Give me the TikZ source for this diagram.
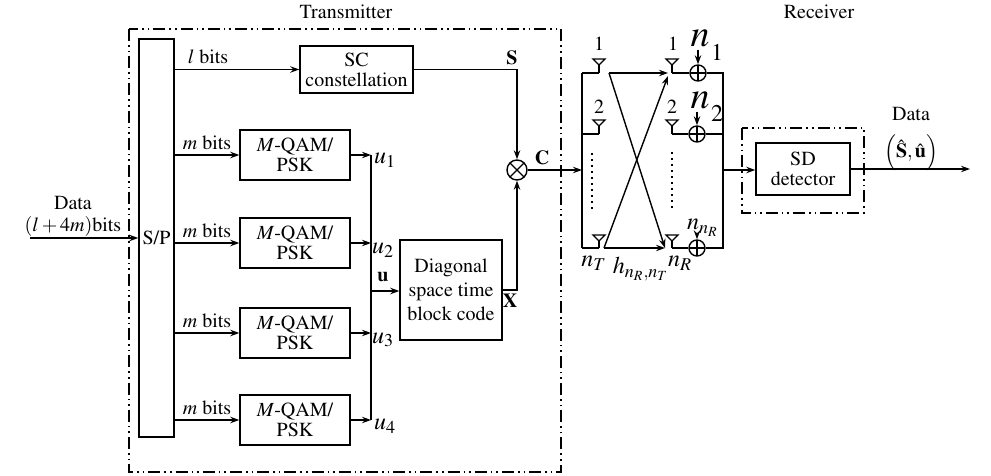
\documentclass[tikz,border=0pt]{standalone}
\usepackage[T1]{fontenc}
\usepackage{mathptmx}
\usetikzlibrary{arrows.meta}
\tikzset{
  blk/.style={draw, align=center, inner sep=1pt, font=\normalsize},
  dd/.style={dash pattern=on 6pt off 2pt on 0.8pt off 2pt on 0.8pt off 2pt, line width=0.7pt},
  lbl/.style={inner sep=0pt},
  arr/.style={-{Stealth[length=4.5pt,width=3.2pt]}},
  sumc/.style={draw, circle, minimum size=8pt, inner sep=0pt,
    path picture={\draw[line width=0.6pt] (path picture bounding box.north) -- (path picture bounding box.south)
      (path picture bounding box.west) -- (path picture bounding box.east);}},
  mulc/.style={draw, circle, minimum size=10pt, inner sep=0pt,
    path picture={\draw[line width=0.6pt] (path picture bounding box.north west) -- (path picture bounding box.south east)
      (path picture bounding box.south west) -- (path picture bounding box.north east);}}
}
\newcommand\antsym[3]{%
  \draw (#1-6,#2) -- (#1+6,#2) -- (#1,#2+6) -- cycle;
  \draw (#1,#2+6) -- (#1,#3);}
\begin{document}
\begin{tikzpicture}[x=0.5pt,y=-0.5pt,line width=0.7pt]
\useasboundingbox (0,0) rectangle (991,476);

% Transmitter box
\draw[dd] (129,29) rectangle (561,472);
\node[lbl] (txl) at (346,12) {Transmitter};
% Receiver box
\draw[dd] (742,128) rectangle (864,213);
\node[lbl] (rxl) at (819,12) {Receiver};

% blocks
\node[blk, minimum width=17.5pt, minimum height=199pt] (sp) at (156.5,238) {S/P};
\node[blk, minimum width=56.5pt, minimum height=23.5pt] (sc) at (356.5,69.5) {SC\\[-2pt]constellation};
\node[blk, minimum width=55pt, minimum height=25pt] (q1) at (295,155) {$M$-QAM/\\[-2pt]PSK};
\node[blk, minimum width=55pt, minimum height=25pt] (q2) at (295,243) {$M$-QAM/\\[-2pt]PSK};
\node[blk, minimum width=55pt, minimum height=25pt] (q3) at (295,333) {$M$-QAM/\\[-2pt]PSK};
\node[blk, minimum width=55pt, minimum height=25pt] (q4) at (295,420) {$M$-QAM/\\[-2pt]PSK};
\node[blk, minimum width=51pt, minimum height=50pt] (dst) at (451,290) {Diagonal\\[0pt]space time\\[0pt]block code};
\node[mulc] (mul) at (517,170) {};
\node[blk, minimum width=47pt, minimum height=26pt] (sd) at (803,169) {SD\\[-2pt]detector};

% input
\coordinate (din) at (30,238);
\draw[arr] (din) -- (sp.west |- din);
\node[lbl] (dl1) at (73,203) {Data};
\node[lbl] (dl2) at (73,226) {$(l+4m)$bits};

% S/P outputs
\draw[arr] (sp.east |- sc) -- (sc.west);
\draw[arr] (sp.east |- q1) -- (q1.west);
\draw[arr] (sp.east |- q2) -- (q2.west);
\draw[arr] (sp.east |- q3) -- (q3.west);
\draw[arr] (sp.east |- q4) -- (q4.west);
\node[lbl] (lb) at (208,57) {$l$ bits};
\node[lbl] (mb1) at (207,143) {$m$ bits};
\node[lbl] (mb2) at (207,231) {$m$ bits};
\node[lbl] (mb3) at (207,321) {$m$ bits};
\node[lbl] (mb4) at (207,408) {$m$ bits};

% bus
\coordinate (bt) at (371,155);
\coordinate (bb) at (371,420);
\draw[arr] (q1.east) -- (bt);
\draw[arr] (q2.east) -- (371,243);
\draw[arr] (q3.east) -- (371,333);
\draw[arr] (q4.east) -- (bb);
\draw (bt) -- (bb);
\draw[arr] (371,291) -- (dst.west |- 0,291);
\node[lbl] (u1) at (385,160) {\large $u_1$};
\node[lbl] (u2) at (383,250) {\large $u_2$};
\node[lbl] (u3) at (383,340) {\large $u_3$};
\node[lbl] (u4) at (385,426) {\large $u_4$};
\node[lbl] (ub) at (383,277) {$\mathbf{u}$};

% S, X, C
\coordinate (sc2) at (517,69.5);
\draw[arr] (sc.east) -- (sc2) -- (mul.north);
\coordinate (xc) at (517,290);
\draw[arr] (dst.east |- xc) -- (xc) -- (mul.south);
\node[lbl] (sl) at (512,58) {$\mathbf{S}$};
\node[lbl] (xl) at (510,301) {$\mathbf{X}$};
\node[lbl] (cl) at (542,158) {$\mathbf{C}$};
\coordinate (tx) at (582,170);
\draw[arr] (mul.east) -- (tx);

% transmit antennas
\draw (582,73) -- (582,248);
\draw (582,73) -- (599,73);
\draw (582,134) -- (599,134);
\draw (582,248) -- (599,248);
\antsym{599}{59}{73}
\antsym{599}{120}{134}
\antsym{599}{235}{248}
\draw[dotted, line width=1pt] (592,153) -- (592,212);
\node[lbl] (t1) at (599,44) {1};
\node[lbl] (t2) at (599,107) {2};
\node[lbl] (tn) at (594,263) {\large $n_T$};

% receive antennas
\antsym{672}{59}{73}
\antsym{672}{120}{134}
\antsym{672}{235}{248}
\draw[dotted, line width=1pt] (672,152) -- (672,210);
\node[lbl] (r1) at (673,44) {1};
\node[lbl] (r2) at (672,107) {2};
\node[lbl] (rn) at (680,263) {\large $n_R$};

\node[sumc] (a1) at (698,73) {};
\node[sumc] (a2) at (697,134) {};
\node[sumc] (a3) at (697,248) {};
\draw (672,73) -- (a1.west);
\draw (672,134) -- (a2.west);
\draw (672,248) -- (a3.west);
\coordinate (rt) at (723,73);
\coordinate (rb) at (723,248);
\draw (a1.east) -- (rt) -- (rb) -- (a3.east);
\draw (a2.east) -- (723,134);

% noise
\node[lbl] (nn1) at (700,38) {\fontsize{19}{19}\selectfont $n$};
\node[lbl] (ns1) at (717,52) {\large 1};
\node[lbl] (nn2) at (700,100) {\fontsize{19}{19}\selectfont $n$};
\node[lbl] (ns2) at (717,113) {\large 2};
\node[lbl] (nnr) at (703,228) {\large $n_{n_R}$};
\draw[arr] (698,50) -- (a1.north);
\draw[arr] (697,112) -- (a2.north);
\draw[arr] (697,234) -- (a3.north);

% channel
\coordinate (c1) at (609,73);
\coordinate (c2) at (604,248);
\coordinate (d1) at (668,73);
\coordinate (d2) at (665,248);
\draw[arr] (c1) -- (d1);
\draw[arr] (c1) -- (d2);
\draw[arr] (c2) -- (d2);
\draw[arr] (c2) -- (668,76);
\node[lbl] (hl) at (641,269) {\large $h_{n_R,n_T}$};

% receiver
\draw[arr] (723,170) -- (sd.west |- 0,170);
\coordinate (dout) at (970,169);
\draw[arr] (sd.east) -- (dout);
\node[lbl] (do1) at (911,114) {Data};
\node[lbl] (do2) at (911,153) {$\Bigl(\hat{\mathbf{S}},\hat{\mathbf{u}}\Bigr)$};
\end{tikzpicture}
\end{document}
